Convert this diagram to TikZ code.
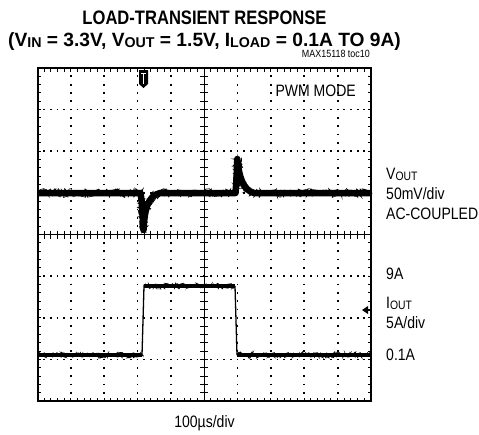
\documentclass[tikz,border=0pt]{standalone}
\usepackage{fontspec}
\usepackage{graphicx}
\setmainfont{Liberation Sans}[FakeStretch=0.85]
\newfontfamily\headfont{Liberation Sans}[FakeStretch=0.85]
\newfontfamily\condfont{Liberation Sans}[FakeStretch=1.0]
\usetikzlibrary{decorations.pathmorphing}

% lowered small letters, as in V_OUT
\newcommand{\lowsub}[1]{\raisebox{-0.12ex}{\scalebox{0.74}{#1}}}

% plot frame (pt, y downwards)
\def\leftx{37.5}
\def\rightx{371}
\def\topy{68}
\def\boty{401}
\def\divx{33.35}
\def\divy{41.625}

\begin{document}
\begin{tikzpicture}[x=1pt, y=-1pt,
    frameline/.style={draw, line width=2pt},
    griddots/.style={line width=1.7pt, dash pattern=on 1.7pt off #1, dash phase=0.85pt},
    axisline/.style={line width=1.2pt},
    tickline/.style={line width=1pt},
    traceband/.style={line width=#1, line join=round},
    tracefuzz/.style={line width=0.6pt, decorate,
        decoration={random steps, segment length=0.8pt, amplitude=#1}},
    titletext/.style={inner sep=0pt, font=\headfont\bfseries\fontsize{19.5}{22}\selectfont},
    condtext/.style={inner sep=0pt, font=\condfont\bfseries\fontsize{19.2}{22}\selectfont},
    labeltext/.style={inner sep=0pt, font=\fontsize{16.5}{18}\selectfont},
    smalltext/.style={inner sep=0pt, font=\fontsize{10.5}{12}\selectfont}
]
\useasboundingbox (0,0) rectangle (479,434);
\pgfmathsetseed{7}

% titles
\node[titletext, anchor=base] (title) at (204.5,24) {LOAD-TRANSIENT RESPONSE};
\node[condtext, anchor=base] (cond) at (204.5,46.5)
    {(V\lowsub{IN} = 3.3V, V\lowsub{OUT} = 1.5V, I\lowsub{LOAD} = 0.1A TO 9A)};
\node[smalltext, anchor=base east] (toc) at (370,57.5) {MAX15118 toc10};

% dotted grid
\foreach \k in {1,2,3,5,6,7}
    \draw[griddots=4.97pt] (\leftx,{\topy+\k*\divy}) -- (\rightx,{\topy+\k*\divy});
\foreach \k in {1,2,3,4,6,7,8,9}
    \draw[griddots=6.625pt] ({\leftx+\k*\divx},\topy) -- ({\leftx+\k*\divx},\boty);

% centre axes with ticks
\draw[axisline] (\leftx,{\topy+4*\divy}) -- (\rightx,{\topy+4*\divy});
\draw[axisline] ({\leftx+5*\divx},\topy) -- ({\leftx+5*\divx},\boty);
\foreach \j in {1,...,49} {
    \draw[tickline] ({\leftx+\j*\divx/5},\topy) -- ++(0,3.5);
    \draw[tickline] ({\leftx+\j*\divx/5},\boty) -- ++(0,-3.5);
    \draw[tickline] ({\leftx+\j*\divx/5},{\topy+4*\divy-4}) -- ++(0,8);
}
\foreach \j in {1,...,39} {
    \draw[tickline] (\leftx,{\topy+\j*\divy/5}) -- ++(3.5,0);
    \draw[tickline] (\rightx,{\topy+\j*\divy/5}) -- ++(-3.5,0);
    \draw[tickline] ({\leftx+5*\divx-4},{\topy+\j*\divy/5}) -- ++(8,0);
}

% frame
\draw[frameline] (\leftx,\topy) rectangle (\rightx,\boty);

% trigger marker
\fill (139,70) -- (148,70) -- (148,84) -- (143.5,88) -- (139,84) -- cycle;
\draw[white, line width=1pt] (141,73) -- (146,73) (143.5,73) -- (143.5,84);

% ground marker of channel 2
\fill (362,310) -- (368,306) -- (368,314) -- cycle;
\draw[line width=1.2pt] (367,310) -- (\rightx,310);

% VOUT trace
\def\voutpath{(\leftx,193) -- (140.5,193)
    .. controls (142,200) and (143,224) .. (143.5,230)
    .. controls (144.5,210) and (147.5,196) .. (160,193) -- (235.5,193)
    .. controls (236.5,180) .. (237.3,159)
    .. controls (239,177) and (243,190) .. (254,193) -- (\rightx,193)}
\draw[traceband=6.5pt] \voutpath;
\draw[tracefuzz=4.5pt] \voutpath;

% IOUT trace
\draw[traceband=4.5pt] (\leftx,355) -- (142,355);
\draw[tracefuzz=3pt] (\leftx,355) -- (142,355);
\draw[traceband=4.5pt] (144,286) -- (235,286);
\draw[tracefuzz=3pt] (144,286) -- (235,286);
\draw[traceband=4.5pt] (237,355) -- (\rightx,355);
\draw[tracefuzz=3pt] (237,355) -- (\rightx,355);
\draw[line width=1.3pt] (142,355) -- (144,286);
\draw[line width=1.3pt] (235,286) -- (237,355);

% labels
\node[labeltext, anchor=base east] (mode) at (356,96.5) {PWM MODE};
\node[labeltext, anchor=base west] (vout) at (386,179) {V\lowsub{OUT}};
\node[labeltext, anchor=base west] (vdiv) at (386,199) {50mV/div};
\node[labeltext, anchor=base west] (acc) at (386,219) {AC-COUPLED};
\node[labeltext, anchor=base west] (nine) at (386,279) {9A};
\node[labeltext, anchor=base west] (iout) at (386,308) {I\lowsub{OUT}};
\node[labeltext, anchor=base west] (idiv) at (386,328) {5A/div};
\node[labeltext, anchor=base west] (low) at (386,360) {0.1A};
\node[labeltext, anchor=base] (tdiv) at (204.5,427.5) {100µs/div};
\end{tikzpicture}
\end{document}
